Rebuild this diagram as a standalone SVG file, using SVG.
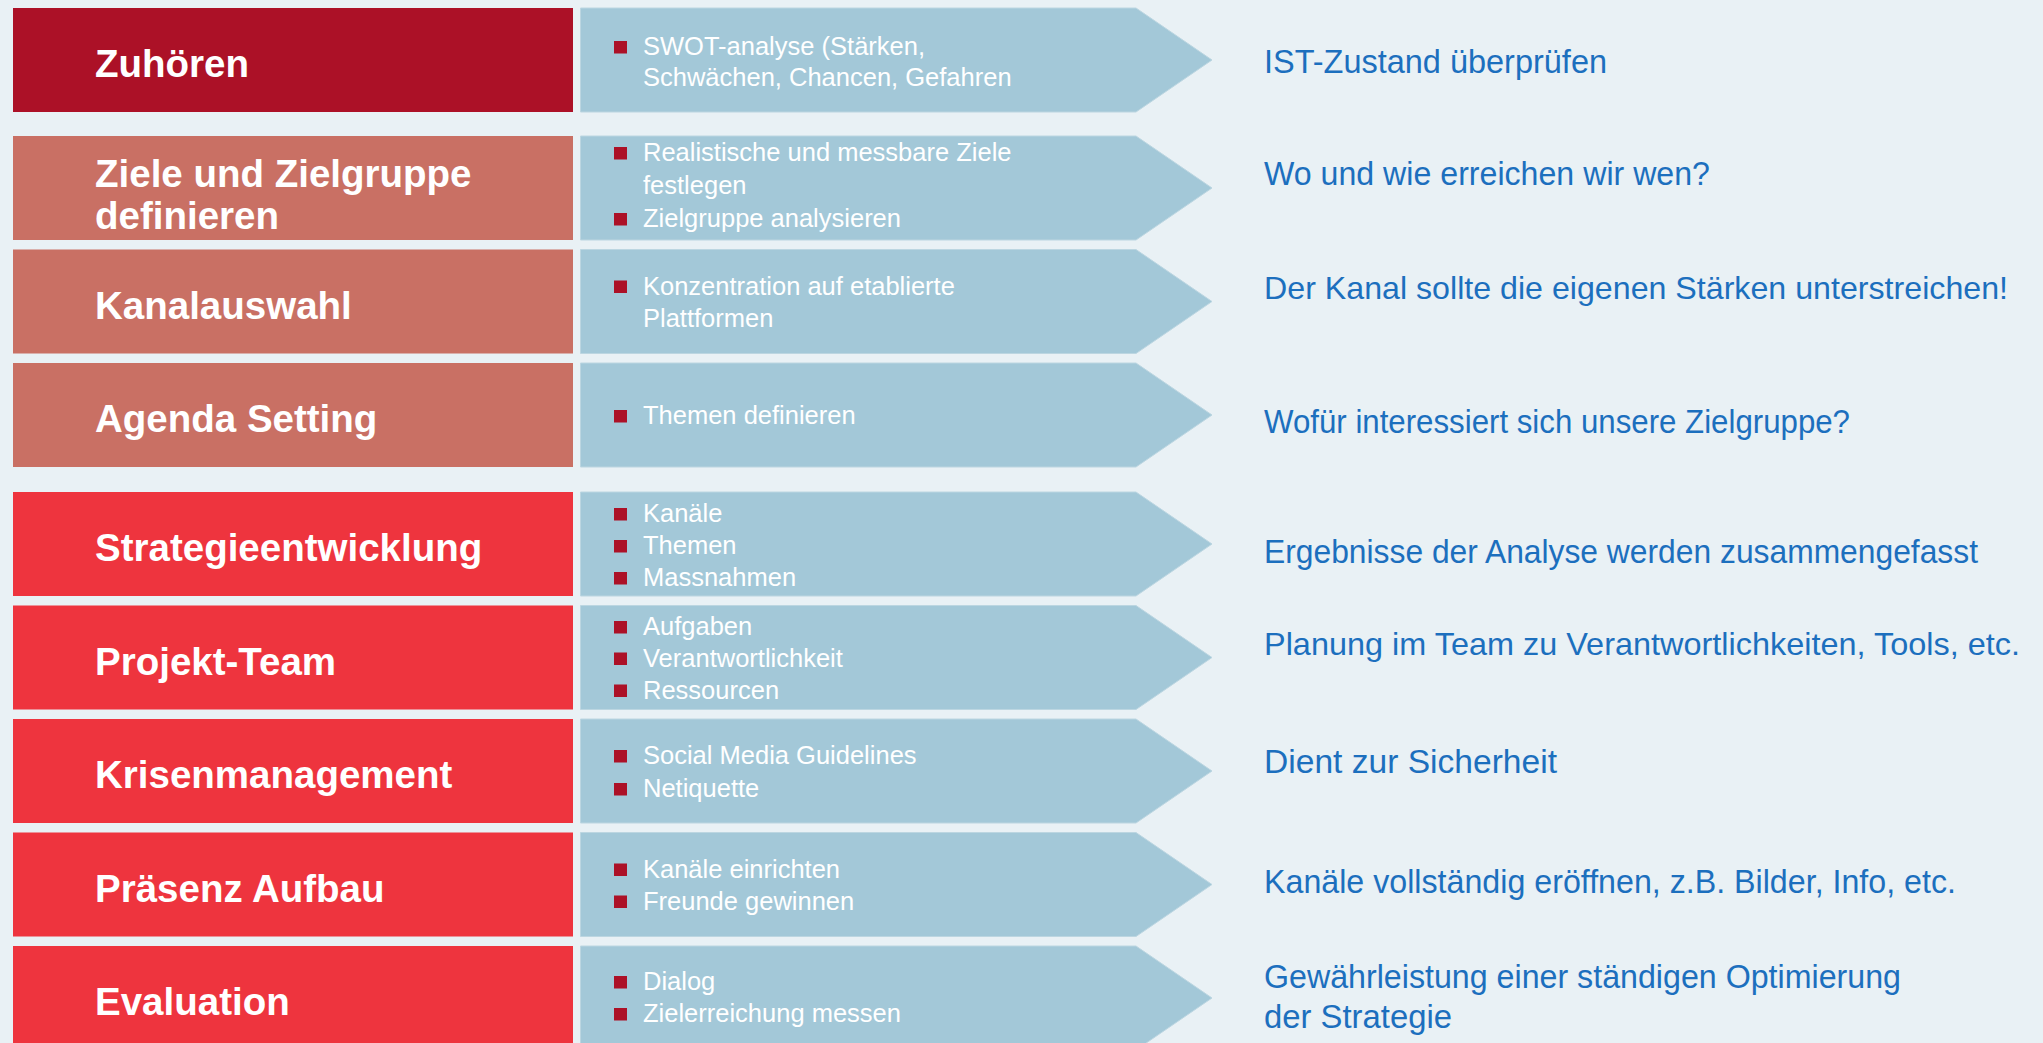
<svg xmlns="http://www.w3.org/2000/svg" xmlns:xlink="http://www.w3.org/1999/xlink" width="2043" height="1043" viewBox="0 0 2043 1043">
  <defs>
    <style>
      .bg { fill: #e9f1f5; }
      .step { stroke: none; }
      .s-dark { fill: #ac1127; }
      .s-soft { fill: #c97064; }
      .s-bright { fill: #ee343e; }
      .chevron { fill: #a3c8d8; stroke: #bcd6e1; stroke-width: 1; }
      .bullet { fill: #ac1127; }
      .label { font-family: "Liberation Sans", Arial, sans-serif; font-weight: 700; font-size: 38.5px; fill: #ffffff; }
      .item { font-family: "Liberation Sans", Arial, sans-serif; font-size: 25.5px; fill: #ffffff; }
      .note { font-family: "Liberation Sans", Arial, sans-serif; font-size: 33px; fill: #1c6fbe; }
      .note.long { font-size: 31.5px; }
    </style>
    <!-- step body with pointed right end, 104 px tall -->
    <polygon id="chevron-shape" points="580.5,0 1136,0 1212,52 1136,104 580.5,104"/>
  </defs>

  <rect class="bg" x="0" y="0" width="2043" height="1043"/>

  <!-- 1 -->
  <g id="step-zuhoeren" transform="translate(0,8)">
    <rect class="step s-dark" x="13" y="0" width="560" height="104"/>
    <text class="label" x="95" y="69">Zuhören</text>
    <use class="chevron" xlink:href="#chevron-shape"/>
    <rect class="bullet" x="614" y="33" width="13" height="12.5"/>
    <text class="item" x="643" y="47">SWOT-analyse (Stärken,</text>
    <text class="item" x="643" y="78">Schwächen, Chancen, Gefahren</text>
    <text class="note" x="1264" y="65" textLength="343" lengthAdjust="spacingAndGlyphs">IST-Zustand überprüfen</text>
  </g>

  <!-- 2 -->
  <g id="step-ziele" transform="translate(0,136)">
    <rect class="step s-soft" x="13" y="0" width="560" height="104"/>
    <text class="label" x="95" y="51">Ziele und Zielgruppe</text>
    <text class="label" x="95" y="93">definieren</text>
    <use class="chevron" xlink:href="#chevron-shape"/>
    <rect class="bullet" x="614" y="11" width="13" height="12.5"/>
    <text class="item" x="643" y="25">Realistische und messbare Ziele</text>
    <text class="item" x="643" y="58">festlegen</text>
    <rect class="bullet" x="614" y="77" width="13" height="12.5"/>
    <text class="item" x="643" y="91">Zielgruppe analysieren</text>
    <text class="note" x="1264" y="49" textLength="446" lengthAdjust="spacingAndGlyphs">Wo und wie erreichen wir wen?</text>
  </g>

  <!-- 3 -->
  <g id="step-kanalauswahl" transform="translate(0,249.5)">
    <rect class="step s-soft" x="13" y="0" width="560" height="104"/>
    <text class="label" x="95" y="69">Kanalauswahl</text>
    <use class="chevron" xlink:href="#chevron-shape"/>
    <rect class="bullet" x="614" y="31" width="13" height="12.5"/>
    <text class="item" x="643" y="45">Konzentration auf etablierte</text>
    <text class="item" x="643" y="77">Plattformen</text>
    <text class="note long" x="1264" y="49.5" textLength="744" lengthAdjust="spacingAndGlyphs">Der Kanal sollte die eigenen Stärken unterstreichen!</text>
  </g>

  <!-- 4 -->
  <g id="step-agenda" transform="translate(0,363)">
    <rect class="step s-soft" x="13" y="0" width="560" height="104"/>
    <text class="label" x="95" y="69">Agenda Setting</text>
    <use class="chevron" xlink:href="#chevron-shape"/>
    <rect class="bullet" x="614" y="47" width="13" height="12.5"/>
    <text class="item" x="643" y="61">Themen definieren</text>
    <text class="note" x="1264" y="69.5" textLength="586" lengthAdjust="spacingAndGlyphs">Wofür interessiert sich unsere Zielgruppe?</text>
  </g>

  <!-- 5 -->
  <g id="step-strategie" transform="translate(0,492)">
    <rect class="step s-bright" x="13" y="0" width="560" height="104"/>
    <text class="label" x="95" y="69">Strategieentwicklung</text>
    <use class="chevron" xlink:href="#chevron-shape"/>
    <rect class="bullet" x="614" y="16" width="13" height="12.5"/>
    <text class="item" x="643" y="30">Kanäle</text>
    <rect class="bullet" x="614" y="48" width="13" height="12.5"/>
    <text class="item" x="643" y="62">Themen</text>
    <rect class="bullet" x="614" y="80" width="13" height="12.5"/>
    <text class="item" x="643" y="94">Massnahmen</text>
    <text class="note" x="1264" y="71" textLength="714" lengthAdjust="spacingAndGlyphs">Ergebnisse der Analyse werden zusammengefasst</text>
  </g>

  <!-- 6 -->
  <g id="step-team" transform="translate(0,605.5)">
    <rect class="step s-bright" x="13" y="0" width="560" height="104"/>
    <text class="label" x="95" y="69">Projekt-Team</text>
    <use class="chevron" xlink:href="#chevron-shape"/>
    <rect class="bullet" x="614" y="15.5" width="13" height="12.5"/>
    <text class="item" x="643" y="29.5">Aufgaben</text>
    <rect class="bullet" x="614" y="47" width="13" height="12.5"/>
    <text class="item" x="643" y="61">Verantwortlichkeit</text>
    <rect class="bullet" x="614" y="79" width="13" height="12.5"/>
    <text class="item" x="643" y="93">Ressourcen</text>
    <text class="note long" x="1264" y="49.5" textLength="756" lengthAdjust="spacingAndGlyphs">Planung im Team zu Verantwortlichkeiten, Tools, etc.</text>
  </g>

  <!-- 7 -->
  <g id="step-krise" transform="translate(0,719)">
    <rect class="step s-bright" x="13" y="0" width="560" height="104"/>
    <text class="label" x="95" y="69">Krisenmanagement</text>
    <use class="chevron" xlink:href="#chevron-shape"/>
    <rect class="bullet" x="614" y="31" width="13" height="12.5"/>
    <text class="item" x="643" y="45">Social Media Guidelines</text>
    <rect class="bullet" x="614" y="64" width="13" height="12.5"/>
    <text class="item" x="643" y="78">Netiquette</text>
    <text class="note" x="1264" y="54" textLength="293" lengthAdjust="spacingAndGlyphs">Dient zur Sicherheit</text>
  </g>

  <!-- 8 -->
  <g id="step-praesenz" transform="translate(0,832.5)">
    <rect class="step s-bright" x="13" y="0" width="560" height="104"/>
    <text class="label" x="95" y="69">Präsenz Aufbau</text>
    <use class="chevron" xlink:href="#chevron-shape"/>
    <rect class="bullet" x="614" y="31" width="13" height="12.5"/>
    <text class="item" x="643" y="45">Kanäle einrichten</text>
    <rect class="bullet" x="614" y="63" width="13" height="12.5"/>
    <text class="item" x="643" y="77">Freunde gewinnen</text>
    <text class="note" x="1264" y="60.5" textLength="692" lengthAdjust="spacingAndGlyphs">Kanäle vollständig eröffnen, z.B. Bilder, Info, etc.</text>
  </g>

  <!-- 9 -->
  <g id="step-evaluation" transform="translate(0,946)">
    <rect class="step s-bright" x="13" y="0" width="560" height="104"/>
    <text class="label" x="95" y="69">Evaluation</text>
    <use class="chevron" xlink:href="#chevron-shape"/>
    <rect class="bullet" x="614" y="30" width="13" height="12.5"/>
    <text class="item" x="643" y="44">Dialog</text>
    <rect class="bullet" x="614" y="62" width="13" height="12.5"/>
    <text class="item" x="643" y="76">Zielerreichung messen</text>
    <text class="note" x="1264" y="42" textLength="637" lengthAdjust="spacingAndGlyphs">Gewährleistung einer ständigen Optimierung</text>
    <text class="note" x="1264" y="82" textLength="188" lengthAdjust="spacingAndGlyphs">der Strategie</text>
  </g>

  <!-- no separate connectors: the pointed step bodies carry the flow -->
  <g id="connectors"/>
</svg>
